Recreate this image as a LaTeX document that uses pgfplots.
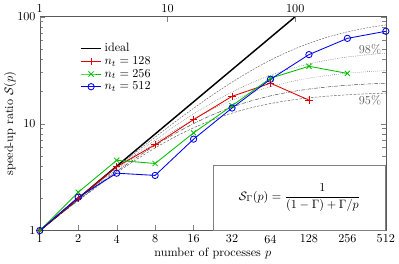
\documentclass[border=0pt]{standalone}
\usepackage{pgfplots}
\pgfplotsset{compat=1.18}
\definecolor{cred}{RGB}{220,0,0}
\definecolor{cgreen}{RGB}{0,190,0}
\definecolor{cblue}{RGB}{0,0,235}
\definecolor{cgray}{RGB}{100,100,100}
\begin{document}
\begin{tikzpicture}
\begin{axis}[
  scale only axis, width=284.8pt, height=176pt,
  xmode=log, log basis x=2, ymode=log,
  xmin=1, xmax=512, ymin=1, ymax=100,
  xtick={1,2,4,8,16,32,64,128,256,512},
  xticklabels={1,2,4,8,16,32,64,128,256,512},
  ytick={1,10,100}, yticklabels={1,10,100},
  xtick pos=bottom, ytick pos=both,
  tick align=inside,
  axis line style={gray!70!black},
  xlabel={number of processes $p$},
  ylabel={speed-up ratio $\mathcal{S}(p)$},
  xlabel style={yshift=3pt},
  ylabel style={yshift=-6pt},
  legend style={draw=none, fill=none, at={(rel axis cs:0.105,0.9)}, anchor=north west, row sep=-1.5pt},
  legend cell align=left,
  clip=true,
]
% Amdahl curves (precomputed values)
\addplot[cgray, thin, dash pattern=on 1.5pt off 1pt, smooth, forget plot] coordinates {
(1,1) (1.4142,1.4084) (2,1.9802) (2.8284,2.7776) (4,3.8835) (5.6569,5.4051) (8,7.4766) (11.314,10.256) (16,13.913) (22.627,18.604) (32,24.427) (45.255,31.371) (64,39.264) (90.51,47.76) (128,56.39) (181.02,64.65) (256,72.11) (362.04,78.53) (512,83.80)};
\addplot[cgray, thin, dash pattern=on 0.5pt off 1pt, smooth, forget plot] coordinates {
(1,1) (1.4142,1.4026) (2,1.9608) (2.8284,2.7287) (4,3.7736) (5.6569,5.1749) (8,7.0175) (11.314,9.379) (16,12.308) (22.627,15.795) (32,19.753) (45.255,24.007) (64,28.319) (90.51,32.438) (128,36.158) (181.02,39.35) (256,41.967) (362.04,44.04) (512,45.63)};
\addplot[cgray, thin, dash pattern=on 0.5pt off 1.2pt, smooth, forget plot] coordinates {
(1,1) (1.4142,1.3969) (2,1.9417) (2.8284,2.6813) (4,3.6697) (5.6569,4.9634) (8,6.6116) (11.314,8.640) (16,11.034) (22.627,13.723) (32,16.580) (45.255,19.442) (64,22.145) (90.51,24.560) (128,26.611) (181.02,28.282) (256,29.595) (362.04,30.601) (512,31.353)};
\addplot[cgray!70!black, thin, dash pattern=on 3pt off 1pt on 0.5pt off 1pt, smooth, forget plot] coordinates {
(1,1) (1.4142,1.3912) (2,1.9231) (2.8284,2.6357) (4,3.5714) (5.6569,4.7686) (8,6.25) (11.314,8.0094) (16,10) (22.627,12.132) (32,14.286) (45.255,16.336) (64,18.182) (90.51,19.760) (128,21.053) (181.02,22.073) (256,22.857) (362.04,23.446) (512,23.881)};
\addplot[cgray, thin, dash pattern=on 2pt off 1.2pt, smooth, forget plot] coordinates {
(1,1) (1.4142,1.3855) (2,1.9048) (2.8284,2.5915) (4,3.4783) (5.6569,4.5885) (8,5.9259) (11.314,7.4644) (16,9.1429) (22.627,10.871) (32,12.549) (45.255,14.086) (64,15.422) (90.51,16.530) (128,17.415) (181.02,18.100) (256,18.618) (362.04,19.003) (512,19.284)};
% ideal
\addplot[black, line width=1.2pt] coordinates {(1,1) (512,512)};
\addlegendentry{ideal}
\addplot[cred, line width=0.7pt, mark=+, mark size=3pt] coordinates {
(1,1) (2,2.0) (4,3.95) (8,6.35) (16,10.9) (32,18.0) (64,23.9) (128,16.6)};
\addlegendentry{$n_t=128$}
\addplot[cgreen, line width=0.7pt, mark=x, mark size=3pt] coordinates {
(1,1) (2,2.28) (4,4.54) (8,4.24) (16,8.2) (32,14.7) (64,26.6) (128,34.4) (256,29.5)};
\addlegendentry{$n_t=256$}
\addplot[cblue, line width=0.7pt, mark=o, mark size=2.6pt] coordinates {
(1,1) (2,2.05) (4,3.44) (8,3.28) (16,7.16) (32,14.0) (64,26.0) (128,44.2) (256,62.7) (512,73.1)};
\addlegendentry{$n_t=512$}
\node[cgray, anchor=center] at (axis cs:385,50) {98\%};
\node[cgray, anchor=center] at (axis cs:385,16.4) {95\%};
\node[draw=gray, fill=white, anchor=south east, minimum width=141.6pt, minimum height=53.6pt, inner sep=0pt] at (rel axis cs:1,0)
  {$\displaystyle \mathcal{S}_\Gamma(p)=\frac{1}{(1-\Gamma)+\Gamma/p}$};
\end{axis}
\begin{axis}[
  scale only axis, width=284.8pt, height=176pt,
  xmode=log, log basis x=10, ymode=log,
  xmin=1, xmax=512, ymin=1, ymax=100,
  axis x line*=top, hide y axis,
  xtick={1,10,100}, xticklabels={1,10,100},
  tick align=inside,
  axis line style={gray!70!black},
]
\addplot[draw=none, forget plot] coordinates {(1,1)};
\end{axis}
\end{tikzpicture}
\end{document}
